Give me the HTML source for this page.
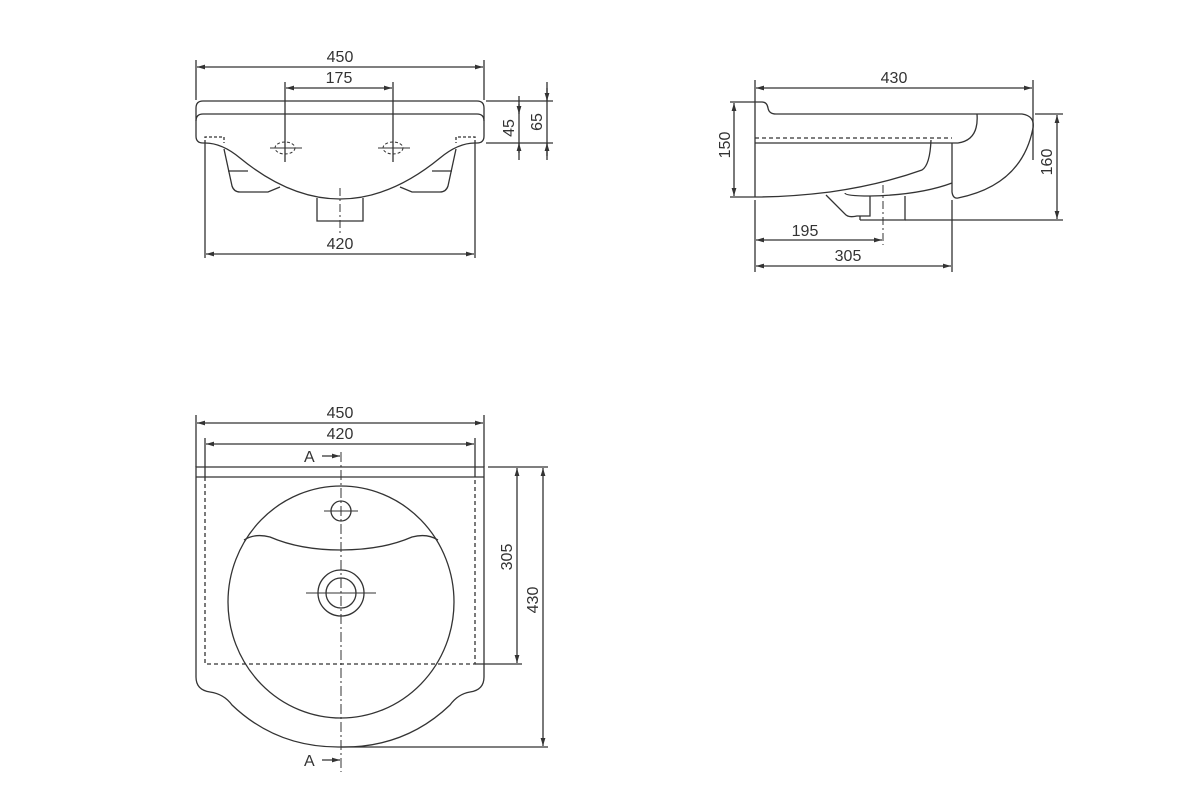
<!DOCTYPE html>
<html><head><style>
html,body{margin:0;padding:0;background:#fff}
svg{display:block}
text{font-family:"Liberation Sans",Arial,sans-serif;font-size:16px;fill:#333}
</style></head><body>
<svg width="1200" height="811" viewBox="0 0 1200 811" xmlns="http://www.w3.org/2000/svg">
<defs>
<marker id="a" viewBox="0 0 10 10" refX="10" refY="5" markerWidth="8" markerHeight="8" orient="auto-start-reverse" markerUnits="userSpaceOnUse"><path d="M0,2 L10,5 L0,8z" fill="#333"/></marker>
</defs>
<g stroke="#333" stroke-width="1.3" fill="none">
<!-- FRONT VIEW -->
<line x1="196" y1="60" x2="196" y2="100"/><line x1="484" y1="60" x2="484" y2="100"/>
<line x1="197" y1="67" x2="483" y2="67" marker-start="url(#a)" marker-end="url(#a)"/>
<line x1="285" y1="82" x2="285" y2="162"/><line x1="393" y1="82" x2="393" y2="162"/>
<line x1="286" y1="88" x2="392" y2="88" marker-start="url(#a)" marker-end="url(#a)"/>
<path d="M203,101 H477 Q484,101 484,108 V136 Q484,143 477,143 H475 M203,101 Q196,101 196,108 V136 Q196,143 203,143 H205"/>
<path d="M203,114 H477 Q484,114 484,121"/><path d="M203,114 Q196,114 196,121"/>
<path d="M205,143 V137 H224 V143" stroke-dasharray="3,2"/><path d="M475,143 V137 H456 V143" stroke-dasharray="3,2"/>
<path d="M205,143 Q222,143 240,158 Q290,199 340,199 Q390,199 440,158 Q458,143 475,143"/>
<path d="M224,149 L232,186 Q234,192 240,192 H268 L280,187"/>
<path d="M456,149 L448,186 Q446,192 440,192 H412 L400,187"/>
<line x1="228" y1="171" x2="248" y2="171"/><line x1="452" y1="171" x2="432" y2="171"/>
<path d="M317,198 V221 H363 V198"/>
<line x1="340" y1="188" x2="340" y2="233" stroke-dasharray="8,3,2,3" stroke-width="1"/>
<g stroke-width="1"><ellipse cx="285" cy="148" rx="10" ry="6" stroke-dasharray="3,2"/><line x1="270" y1="148" x2="302" y2="148"/><line x1="285" y1="138" x2="285" y2="162"/>
<ellipse cx="393" cy="148" rx="10" ry="6" stroke-dasharray="3,2"/><line x1="378" y1="148" x2="410" y2="148"/></g>
<line x1="205" y1="143" x2="205" y2="258"/><line x1="475" y1="143" x2="475" y2="258"/>
<line x1="206" y1="254" x2="474" y2="254" marker-start="url(#a)" marker-end="url(#a)"/>
<line x1="486" y1="101" x2="553" y2="101"/><line x1="486" y1="143" x2="553" y2="143"/>
<line x1="519" y1="96" x2="519" y2="160"/><line x1="519" y1="104" x2="519" y2="114" marker-end="url(#a)"/><line x1="519" y1="153" x2="519" y2="143" marker-end="url(#a)"/>
<line x1="547" y1="82" x2="547" y2="160"/><line x1="547" y1="88" x2="547" y2="101" marker-end="url(#a)"/><line x1="547" y1="156" x2="547" y2="143" marker-end="url(#a)"/>
<line x1="486" y1="114" x2="524" y2="114" stroke-width="0"/>
<!-- SIDE VIEW -->
<line x1="755" y1="80" x2="755" y2="102"/><line x1="1033" y1="80" x2="1033" y2="160"/>
<line x1="756" y1="88" x2="1032" y2="88" marker-start="url(#a)" marker-end="url(#a)"/>
<line x1="730" y1="102" x2="755" y2="102"/><line x1="730" y1="197" x2="755" y2="197"/>
<line x1="734" y1="103" x2="734" y2="196" marker-start="url(#a)" marker-end="url(#a)"/>
<path d="M755,197 V102 H762 Q767,102 768,108 Q769,114 776,114 H1022 Q1035,116 1033,128 Q1022,185 958,198 Q953,199 952,192 V143"/>
<path d="M977,114 Q979,140 958,143 H755"/>
<path d="M755,138 H952" stroke-dasharray="4,3"/>
<path d="M931,140 Q930,165 922,170 Q880,185 830,192 Q790,197 755,197"/>
<path d="M952,183 Q920,195 870,196 Q845,196 845,193"/>
<path d="M826,195 L845,214 Q848,218 857,216 H870 V196 M860,220 H905 V196"/>
<line x1="860" y1="216" x2="860" y2="220"/>
<line x1="905" y1="220" x2="1063" y2="220"/><line x1="1035" y1="114" x2="1063" y2="114"/>
<line x1="1057" y1="115" x2="1057" y2="219" marker-start="url(#a)" marker-end="url(#a)"/>
<line x1="883" y1="185" x2="883" y2="245" stroke-dasharray="8,3,2,3" stroke-width="1"/>
<line x1="755" y1="200" x2="755" y2="272"/><line x1="952" y1="200" x2="952" y2="272"/>
<line x1="756" y1="240" x2="882" y2="240" marker-start="url(#a)" marker-end="url(#a)"/>
<line x1="756" y1="266" x2="951" y2="266" marker-start="url(#a)" marker-end="url(#a)"/>
<!-- TOP VIEW -->
<line x1="196" y1="415" x2="196" y2="467"/><line x1="484" y1="415" x2="484" y2="467"/>
<line x1="197" y1="423" x2="483" y2="423" marker-start="url(#a)" marker-end="url(#a)"/>
<line x1="205" y1="438" x2="205" y2="477"/><line x1="475" y1="438" x2="475" y2="477"/>
<line x1="206" y1="444" x2="474" y2="444" marker-start="url(#a)" marker-end="url(#a)"/>
<path d="M196,467 H484 V677 Q484,690 470,692 Q458,694 450,705 Q405,748 341,747 Q277,748 232,705 Q224,694 210,692 Q196,690 196,677 Z"/>
<line x1="196" y1="477" x2="484" y2="477"/>
<path d="M205,477 V664 H475 V477" stroke-dasharray="4,3"/>
<ellipse cx="341" cy="602" rx="113" ry="116"/>
<circle cx="341" cy="511" r="10"/>
<path d="M244,540 Q255,533 270,537 Q300,550 341,550 Q382,550 412,537 Q427,533 438,540"/>
<circle cx="341" cy="593" r="23"/><circle cx="341" cy="593" r="15"/>
<g stroke-width="1"><line x1="324" y1="511" x2="358" y2="511"/><line x1="306" y1="593" x2="376" y2="593"/></g>
<line x1="341" y1="452" x2="341" y2="772" stroke-dasharray="10,3,2,3" stroke-width="1"/>
<line x1="322" y1="456" x2="340" y2="456" marker-end="url(#a)"/>
<line x1="322" y1="760" x2="340" y2="760" marker-end="url(#a)"/>
<line x1="488" y1="467" x2="548" y2="467"/><line x1="475" y1="664" x2="522" y2="664"/><line x1="341" y1="747" x2="548" y2="747"/>
<line x1="517" y1="468" x2="517" y2="663" marker-start="url(#a)" marker-end="url(#a)"/>
<line x1="543" y1="468" x2="543" y2="746" marker-start="url(#a)" marker-end="url(#a)"/>
</g>
<text x="340" y="62" text-anchor="middle">450</text>
<text x="339" y="83" text-anchor="middle">175</text>
<text x="340" y="249" text-anchor="middle">420</text>
<text transform="translate(514,128) rotate(-90)" text-anchor="middle">45</text>
<text transform="translate(542,122) rotate(-90)" text-anchor="middle">65</text>
<text x="894" y="83" text-anchor="middle">430</text>
<text transform="translate(730,145) rotate(-90)" text-anchor="middle">150</text>
<text transform="translate(1052,162) rotate(-90)" text-anchor="middle">160</text>
<text x="805" y="236" text-anchor="middle">195</text>
<text x="848" y="261" text-anchor="middle">305</text>
<text x="340" y="418" text-anchor="middle">450</text>
<text x="340" y="439" text-anchor="middle">420</text>
<text x="304" y="462">A</text>
<text x="304" y="766">A</text>
<text transform="translate(512,557) rotate(-90)" text-anchor="middle">305</text>
<text transform="translate(538,600) rotate(-90)" text-anchor="middle">430</text>
</svg>
</body></html>
